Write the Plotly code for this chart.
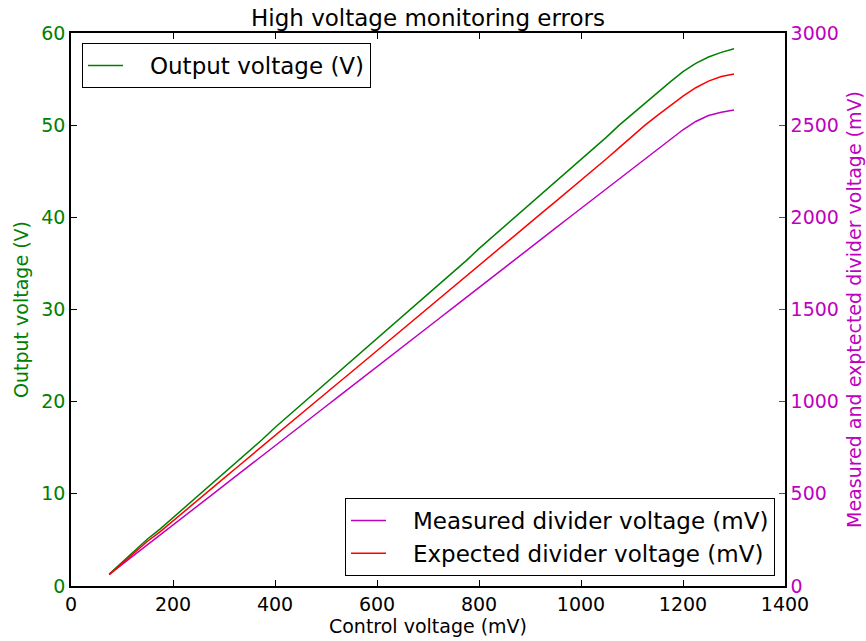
import plotly.graph_objects as go

# Control voltage sweep (mV)
control_mv = [75, 100, 125, 150, 175, 200, 225, 250, 275, 300,
              325, 350, 375, 400, 425, 450, 475, 500, 525, 550,
              575, 600, 625, 650, 675, 700, 725, 750, 775, 800,
              825, 850, 875, 900, 925, 950, 975, 1000, 1025, 1050,
              1075, 1100, 1125, 1150, 1175, 1200, 1225, 1250, 1275, 1300]

# High-voltage output (V)
output_v = [1.3, 2.6, 3.8, 5.1, 6.2, 7.4, 8.7, 9.9, 11.1, 12.3,
            13.5, 14.7, 15.9, 17.2, 18.4, 19.6, 20.8, 22.0, 23.2, 24.4,
            25.6, 26.8, 28.0, 29.3, 30.5, 31.7, 32.9, 34.1, 35.3, 36.6,
            37.8, 39.0, 40.2, 41.4, 42.6, 43.8, 45.0, 46.2, 47.5, 48.7,
            50.0, 51.2, 52.4, 53.6, 54.7, 55.8, 56.7, 57.4, 57.9, 58.3]

# Divider voltage read back by the ADC (mV)
measured_mv = [63, 116, 170, 224, 277, 331, 385, 438, 492, 546,
               599, 653, 707, 760, 814, 868, 921, 975, 1029, 1082,
               1136, 1190, 1243, 1297, 1351, 1404, 1458, 1512, 1565, 1619,
               1673, 1726, 1780, 1834, 1887, 1941, 1995, 2048, 2102, 2156,
               2209, 2263, 2317, 2370, 2424, 2475, 2520, 2552, 2570, 2582]

# Divider voltage expected from the output voltage (mV)
expected_mv = [62, 124, 181, 243, 295, 352, 414, 471, 528, 585,
               643, 700, 757, 819, 876, 933, 990, 1047, 1104, 1161,
               1219, 1276, 1333, 1395, 1452, 1509, 1566, 1623, 1680, 1742,
               1799, 1856, 1914, 1971, 2028, 2085, 2142, 2199, 2261, 2318,
               2378, 2440, 2499, 2553, 2605, 2657, 2703, 2739, 2764, 2778]

# Legend entries, padded so the text sits clear of the line sample
PAD = "\u00a0\u00a0\u00a0"
series_names = [PAD + "Output voltage (V)",
                PAD + "Measured divider voltage (mV)",
                PAD + "Expected divider voltage (mV)"]

GREEN = "#008000"
RED = "#FF0000"
MAGENTA = "#BF00BF"
FONT = "DejaVu Sans"

fig = go.Figure()

fig.add_trace(go.Scatter(
    x=control_mv, y=output_v, mode="lines",
    name=series_names[0],
    line=dict(color=GREEN, width=1.5),
    legend="legend",
))
fig.add_trace(go.Scatter(
    x=control_mv, y=measured_mv, mode="lines",
    name=series_names[1],
    line=dict(color=MAGENTA, width=1.5),
    yaxis="y2", legend="legend2",
))
fig.add_trace(go.Scatter(
    x=control_mv, y=expected_mv, mode="lines",
    name=series_names[2],
    line=dict(color=RED, width=1.5),
    yaxis="y2", legend="legend2",
))

fig.update_layout(
    width=866, height=641,
    margin=dict(l=71, r=81, t=33, b=55),
    paper_bgcolor="white", plot_bgcolor="white",
    font=dict(family=FONT, size=19, color="black"),
    showlegend=True,
    title=dict(text="High voltage monitoring errors",
               font=dict(family=FONT, size=23, color="black"),
               x=(71 + 785) / 2 / 866, xanchor="center",
               y=1 - 18 / 641, yanchor="middle"),
    xaxis=dict(
        range=[0, 1400], tickvals=[0, 200, 400, 600, 800, 1000, 1200, 1400],
        ticks="inside", ticklen=6, tickcolor="black", tickwidth=1,
        showline=True, linecolor="black", linewidth=1.5, mirror="ticks",
        showgrid=False, zeroline=False, automargin=False,
        tickfont=dict(size=19, color="black"),
        title=dict(text="Control voltage (mV)", font=dict(size=19, color="black"),
                   standoff=6),
    ),
    yaxis=dict(
        range=[0, 60], tickvals=[0, 10, 20, 30, 40, 50, 60],
        ticks="inside", ticklen=6, tickcolor="black", tickwidth=1,
        showline=True, linecolor="black", linewidth=1.5,
        showgrid=False, zeroline=False, automargin=False,
        tickfont=dict(size=19, color=GREEN),
        title=dict(text="Output voltage (V)", font=dict(size=19, color=GREEN),
                   standoff=8),
    ),
    yaxis2=dict(
        range=[0, 3000], tickvals=[0, 500, 1000, 1500, 2000, 2500, 3000],
        overlaying="y", side="right",
        ticks="inside", ticklen=6, tickcolor=MAGENTA, tickwidth=1,
        showline=True, linecolor="black", linewidth=1.5,
        showgrid=False, zeroline=False, automargin=False,
        tickfont=dict(size=19, color=MAGENTA),
        title=dict(text="Measured and exptected divider voltage (mV)",
                   font=dict(size=19, color=MAGENTA), standoff=10),
    ),
    legend=dict(
        x=(82 - 71) / 714, y=(586 - 43) / 553, xanchor="left", yanchor="top",
        bordercolor="black", borderwidth=1, bgcolor="white",
        font=dict(size=23, color="black"), itemwidth=35,
    ),
    legend2=dict(
        x=(775 - 71) / 714, y=(586 - 576) / 553, xanchor="right", yanchor="bottom",
        bordercolor="black", borderwidth=1, bgcolor="white",
        font=dict(size=23, color="black"), traceorder="normal", itemwidth=35,
    ),
)

fig.write_html("out.html")
